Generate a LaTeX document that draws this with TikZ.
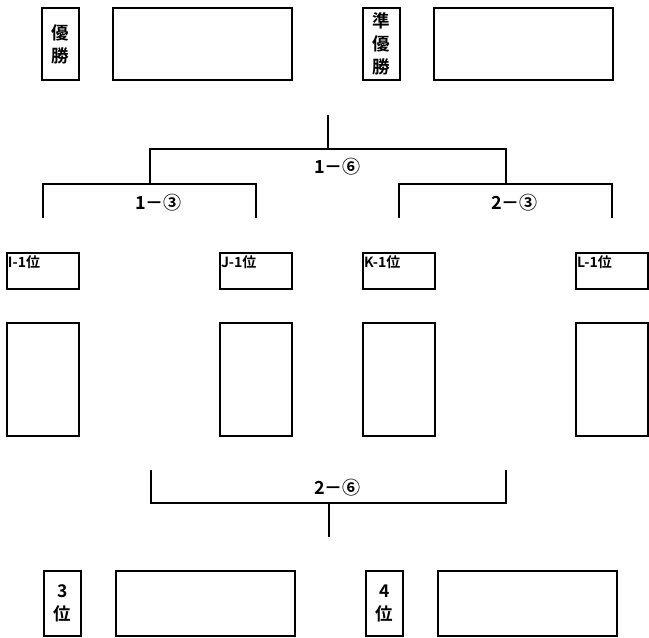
\documentclass[tikz,border=0pt]{standalone}
\usepackage{fontspec}
\newfontfamily\jpfont{Noto Sans CJK JP}[BoldFont={Noto Sans CJK JP Bold}]
\usetikzlibrary{positioning,calc}
\tikzset{
  basic/.style    = {draw, line width=2pt, rectangle, inner sep=0pt, outer sep=0pt,
  font=\jpfont\bfseries},
  rankbox/.style  = {basic, align=center, minimum width=37pt, minimum height=72pt,
  font=\jpfont\bfseries\fontsize{17.5}{23}\selectfont},
  namebox/.style  = {basic, minimum width=179pt, minimum height=72pt},
  teambox/.style  = {basic, text width=70pt, align=left, inner sep=1pt,
  text height=13pt, text depth=21pt, font=\jpfont\bfseries\fontsize{14}{15}\selectfont},
  slotbox/.style  = {basic, minimum width=72pt, minimum height=113pt},
  score/.style    = {inner sep=0pt, font=\jpfont\bfseries\fontsize{18}{20}\selectfont},
  bracket/.style  = {line width=2pt}
}

\begin{document}
\begin{tikzpicture}[x=1pt,y=-1pt]
\useasboundingbox (0,0) rectangle (649,638);
% winner and runner-up
\node[rankbox, anchor=north west] (winlabel) at (42,8) {優\\勝};
\node[namebox, right=34pt of winlabel] (winner) {};
\node[rankbox, right=71pt of winner] (runnerlabel) {準\\優\\勝};
\node[namebox, right=34pt of runnerlabel] (runner) {};

% block winners
\node[teambox, anchor=north west] (teamI) at (7,253) {I-1位};
\node[teambox, right=141pt of teamI] (teamJ) {J-1位};
\node[teambox, right=71pt of teamJ] (teamK) {K-1位};
\node[teambox, right=141pt of teamK] (teamL) {L-1位};
\node[slotbox, below=34pt of teamI] (slotI) {};
\node[slotbox, below=34pt of teamJ] (slotJ) {};
\node[slotbox, below=34pt of teamK] (slotK) {};
\node[slotbox, below=34pt of teamL] (slotL) {};

% tournament lines
\coordinate (topI) at ($(teamI.north)+(0,-35)$);
\coordinate (topJ) at ($(teamJ.north)+(0,-35)$);
\coordinate (topK) at ($(teamK.north)+(0,-35)$);
\coordinate (topL) at ($(teamL.north)+(0,-35)$);
\coordinate (semiA) at ($(topI)!.5!(topJ)+(0,-34)$);
\coordinate (semiB) at ($(topK)!.5!(topL)+(0,-34)$);
\coordinate (final) at ($(semiA)!.5!(semiB)+(0,-35)$);
\coordinate (champion) at ($(final)+(0,-34)$);
\draw[bracket] (topI) |- (semiA) -| (topJ);
\draw[bracket] (topK) |- (semiB) -| (topL);
\draw[bracket] (semiA) |- (final) -| (semiB);
\draw[bracket] (final) -- (champion);
\node[score] (scoreA) at ($(semiA)+(9,19)$) {1－③};
\node[score] (scoreB) at ($(semiB)+(9,19)$) {2－③};
\node[score] (scoreF) at ($(final)+(10,18)$) {1－⑥};

% third place match
\coordinate (lossA) at (151,470);
\coordinate (lossB) at (506,470);
\coordinate (bronze) at ($(lossA)!.5!(lossB)+(0,33)$);
\coordinate (bronzewin) at ($(bronze)+(0,34)$);
\draw[bracket] (lossA) |- (bronze) -| (lossB);
\draw[bracket] (bronze) -- (bronzewin);
\node[score] (scoreT) at ($(bronze)+(9,-15)$) {2－⑥};

% third and fourth
\node[rankbox, minimum height=65pt, anchor=north west] (thirdlabel) at (44,571) {3\\位};
\node[namebox, minimum height=65pt, right=35pt of thirdlabel] (third) {};
\node[rankbox, minimum height=65pt, right=71pt of third] (fourthlabel) {4\\位};
\node[namebox, minimum height=65pt, right=35pt of fourthlabel] (fourth) {};
\end{tikzpicture}
\end{document}
